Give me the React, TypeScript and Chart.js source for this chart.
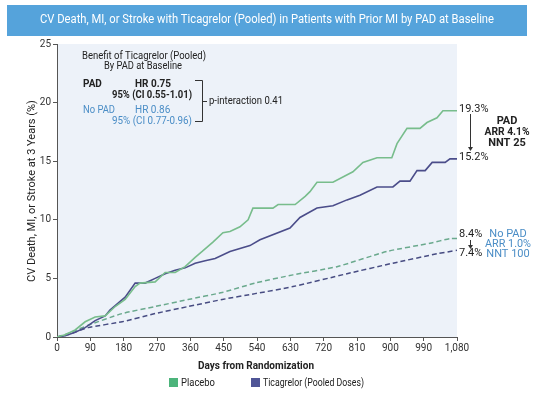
import React, { useEffect, useRef } from 'react';
import { Chart, registerables } from 'chart.js';

Chart.register(...registerables);

// ---- data ----
const placeboPadDays = [0, 22, 49, 76, 103, 130, 157, 184, 211, 224, 265, 292, 319, 346, 373, 392, 421, 448, 467, 494, 516, 529, 583, 597, 643, 670, 683, 702, 745, 799, 826, 864, 904, 918, 945, 980, 999, 1026, 1042, 1080];
const placeboPadRisk = [0, 0.2, 0.6, 1.3, 1.7, 1.8, 2.6, 3.2, 4.3, 4.6, 4.7, 5.5, 5.5, 6.0, 6.8, 7.3, 8.1, 8.9, 9.0, 9.4, 10.0, 11.0, 11.0, 11.3, 11.3, 12.0, 12.4, 13.2, 13.2, 14.1, 14.9, 15.3, 15.3, 16.5, 17.8, 17.8, 18.3, 18.7, 19.3, 19.3];

const ticaPadDays = [0, 22, 49, 76, 103, 130, 143, 184, 211, 238, 265, 292, 319, 346, 373, 400, 427, 467, 521, 548, 629, 656, 702, 745, 783, 818, 864, 907, 926, 953, 972, 994, 1013, 1048, 1061, 1080];
const ticaPadRisk = [0, 0.1, 0.4, 0.8, 1.4, 1.8, 2.3, 3.4, 4.6, 4.6, 5.0, 5.4, 5.7, 5.9, 6.3, 6.5, 6.7, 7.3, 7.8, 8.3, 9.3, 10.2, 11.0, 11.2, 11.7, 12.1, 12.8, 12.8, 13.3, 13.3, 14.2, 14.2, 14.9, 14.9, 15.2, 15.2];

const placeboNoPadDays = [0, 30, 84, 176, 265, 354, 446, 535, 637, 756, 891, 1007, 1061, 1080];
const placeboNoPadRisk = [0, 0.3, 1.0, 2.0, 2.6, 3.2, 3.8, 4.6, 5.3, 6.0, 7.3, 8.0, 8.4, 8.4];

const ticaNoPadDays = [0, 30, 84, 176, 265, 354, 446, 535, 637, 783, 907, 1026, 1080];
const ticaNoPadRisk = [0, 0.2, 0.8, 1.3, 2.0, 2.6, 3.2, 3.7, 4.3, 5.4, 6.3, 7.1, 7.4];

const xTickValues = [0, 90, 180, 270, 360, 450, 540, 630, 720, 810, 900, 990, 1080];
const yTickValues = [0, 5, 10, 15, 20, 25];

const legendLabels = ['Placebo', 'Ticagrelor (Pooled Doses)'];

const TITLE = 'CV Death, MI, or Stroke with Ticagrelor (Pooled) in Patients with Prior MI by PAD at Baseline';
const X_TITLE = 'Days from Randomization';
const Y_TITLE = 'CV Death, MI, or Stroke at 3 Years (%)';

const GREEN = '#78bd8c';
const GREEN_DASH = '#6aa98d';
const PURPLE = '#4b4d8a';
const PURPLE_DASH = '#474c82';
const BLUE_TEXT = '#4a8dc6';
const DARK = '#222';
const FONT = 'Roboto, "Open Sans", sans-serif';

const toPoints = (xs: number[], ys: number[]) => xs.map((x, i) => ({ x, y: ys[i] }));

function txt(ctx: CanvasRenderingContext2D, s: string, x: number, y: number, font: string, color: string, align: CanvasTextAlign = 'left', maxWidth?: number) {
  ctx.font = font;
  ctx.fillStyle = color;
  ctx.textAlign = align;
  ctx.textBaseline = 'middle';
  if (maxWidth) {
    const w = ctx.measureText(s).width;
    if (w > maxWidth) { ctx.fillText(s, x, y, maxWidth); return; }
  }
  ctx.fillText(s, x, y);
}

function arrow(ctx: CanvasRenderingContext2D, x: number, y1: number, y2: number) {
  ctx.save();
  ctx.strokeStyle = '#333';
  ctx.fillStyle = '#333';
  ctx.lineWidth = 1;
  ctx.beginPath();
  ctx.moveTo(x + 0.5, y1);
  ctx.lineTo(x + 0.5, y2 - 3);
  ctx.stroke();
  ctx.beginPath();
  ctx.moveTo(x - 2, y2 - 4);
  ctx.lineTo(x + 3, y2 - 4);
  ctx.lineTo(x + 0.5, y2);
  ctx.closePath();
  ctx.fill();
  ctx.restore();
}

const decorPlugin = {
  id: 'decor',
  beforeDraw(chart: any) {
    const { ctx, chartArea } = chart;
    ctx.save();
    ctx.fillStyle = '#fff';
    ctx.fillRect(0, 0, chart.width, chart.height);
    // plot background
    ctx.fillStyle = '#edf2f9';
    ctx.fillRect(chartArea.left, chartArea.top, chartArea.right - chartArea.left, chartArea.bottom - chartArea.top);
    // title banner
    ctx.fillStyle = '#55a3db';
    ctx.fillRect(7, 5, 520, 31);
    txt(ctx, TITLE, 267, 20, `12.5px ${FONT}`, '#fff', 'center', 454);
    ctx.restore();
  },
  afterDraw(chart: any) {
    const { ctx } = chart;
    ctx.save();
    // axis titles
    txt(ctx, X_TITLE, 256, 366, `bold 11px ${FONT}`, DARK, 'center', 116);
    ctx.save();
    ctx.translate(32, 191);
    ctx.rotate(-Math.PI / 2);
    txt(ctx, Y_TITLE, 0, 0, `11px ${FONT}`, DARK, 'center', 228);
    ctx.restore();

    // legend
    ctx.fillStyle = '#4cb47b';
    ctx.fillRect(169, 378, 9, 9);
    txt(ctx, legendLabels[0], 181, 383, `10px ${FONT}`, DARK, 'left', 34);
    ctx.fillStyle = '#4f5596';
    ctx.fillRect(251, 378, 9, 9);
    txt(ctx, legendLabels[1], 263, 383, `10px ${FONT}`, DARK, 'left', 101);

    // inset box
    txt(ctx, 'Benefit of Ticagrelor (Pooled)', 144, 56, `10px ${FONT}`, DARK, 'center', 124);
    txt(ctx, 'By PAD at Baseline', 143, 66, `10px ${FONT}`, DARK, 'center', 78);
    txt(ctx, 'PAD', 83, 84, `bold 10px ${FONT}`, DARK, 'left');
    txt(ctx, 'HR 0.75', 135, 84, `bold 10px ${FONT}`, DARK, 'left', 36);
    txt(ctx, '95% (CI 0.55-1.01)', 112, 95, `bold 10px ${FONT}`, DARK, 'left', 80);
    txt(ctx, 'No PAD', 83, 110, `10px ${FONT}`, BLUE_TEXT, 'left', 32);
    txt(ctx, 'HR 0.86', 135, 110, `10px ${FONT}`, BLUE_TEXT, 'left', 36);
    txt(ctx, '95% (CI 0.77-0.96)', 112, 121, `10px ${FONT}`, BLUE_TEXT, 'left', 80);
    ctx.strokeStyle = '#333';
    ctx.lineWidth = 1;
    ctx.beginPath();
    ctx.moveTo(195, 80.5);
    ctx.lineTo(202.5, 80.5);
    ctx.lineTo(202.5, 121.5);
    ctx.lineTo(195, 121.5);
    ctx.moveTo(202.5, 101.5);
    ctx.lineTo(207, 101.5);
    ctx.stroke();
    txt(ctx, 'p-interaction 0.41', 209, 101, `10px ${FONT}`, DARK, 'left', 74);

    // right annotations
    txt(ctx, '19.3%', 459, 109, `11px ${FONT}`, DARK, 'left', 30);
    arrow(ctx, 470, 114, 151);
    txt(ctx, '15.2%', 459, 157, `11px ${FONT}`, DARK, 'left', 30);
    txt(ctx, 'PAD', 507, 121, `bold 11px ${FONT}`, DARK, 'center');
    txt(ctx, 'ARR 4.1%', 507, 132, `bold 11px ${FONT}`, DARK, 'center', 45);
    txt(ctx, 'NNT 25', 507, 143, `bold 11px ${FONT}`, DARK, 'center', 40);

    txt(ctx, '8.4%', 459, 234, `11px ${FONT}`, DARK, 'left', 25);
    arrow(ctx, 470, 240, 249);
    txt(ctx, '7.4%', 459, 253, `11px ${FONT}`, DARK, 'left', 25);
    txt(ctx, 'No PAD', 508, 234, `11px ${FONT}`, BLUE_TEXT, 'center', 38);
    txt(ctx, 'ARR 1.0%', 508, 244, `11px ${FONT}`, BLUE_TEXT, 'center', 46);
    txt(ctx, 'NNT 100', 508, 254, `11px ${FONT}`, BLUE_TEXT, 'center', 46);
    ctx.restore();
  },
};

export default function App() {
  const ref = useRef<HTMLCanvasElement | null>(null);
  useEffect(() => {
    if (!ref.current) return;
    const axisColor = '#555';
    const chart = new Chart(ref.current, {
      type: 'line',
      data: {
        datasets: [
          { label: 'Placebo PAD', data: toPoints(placeboPadDays, placeboPadRisk), borderColor: GREEN, borderWidth: 1.6, pointRadius: 0, tension: 0 },
          { label: 'Ticagrelor PAD', data: toPoints(ticaPadDays, ticaPadRisk), borderColor: PURPLE, borderWidth: 1.6, pointRadius: 0, tension: 0 },
          { label: 'Placebo No PAD', data: toPoints(placeboNoPadDays, placeboNoPadRisk), borderColor: GREEN_DASH, borderWidth: 1.5, borderDash: [5, 3], pointRadius: 0, tension: 0.2 },
          { label: 'Ticagrelor No PAD', data: toPoints(ticaNoPadDays, ticaNoPadRisk), borderColor: PURPLE_DASH, borderWidth: 1.5, borderDash: [5, 3], pointRadius: 0, tension: 0.2 },
        ],
      },
      options: {
        responsive: false,
        animation: false,
        events: [],
        layout: { padding: { left: 0, right: 81, top: 44, bottom: 0 } },
        plugins: { legend: { display: false }, title: { display: false }, tooltip: { enabled: false } },
        scales: {
          x: {
            type: 'linear',
            min: 0,
            max: 1080,
            afterFit: (s: any) => { s.height = 58; },
            afterBuildTicks: (s: any) => { s.ticks = xTickValues.map((v) => ({ value: v })); },
            ticks: {
              autoSkip: false,
              maxRotation: 0,
              color: '#333',
              font: { size: 10, family: FONT },
              padding: 1,
              callback: (v: any) => Number(v).toLocaleString('en-US'),
            },
            grid: { display: true, drawOnChartArea: false, drawTicks: true, tickLength: 4, color: axisColor },
            border: { display: true, color: axisColor, width: 1 },
          },
          y: {
            min: 0,
            max: 25,
            afterFit: (s: any) => { s.width = 57; },
            afterBuildTicks: (s: any) => { s.ticks = yTickValues.map((v) => ({ value: v })); },
            ticks: { color: '#333', font: { size: 10, family: FONT }, padding: 2 },
            grid: { display: true, drawOnChartArea: false, drawTicks: true, tickLength: 4, color: axisColor },
            border: { display: true, color: axisColor, width: 1 },
          },
        },
      },
      plugins: [decorPlugin],
    });
    return () => chart.destroy();
  }, []);
  return (
    <div style={{ position: 'absolute', left: 0, top: 0, width: 538, height: 395 }}>
      <canvas ref={ref} width={538} height={395} style={{ display: 'block', width: 538, height: 395 }} />
    </div>
  );
}
